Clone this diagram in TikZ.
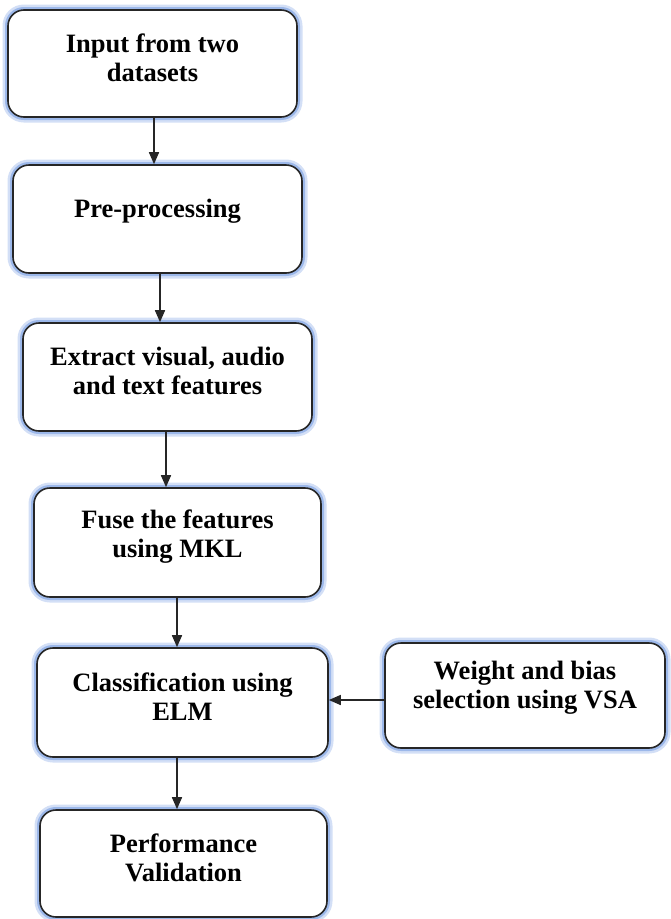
\documentclass[tikz,border=0pt]{standalone}
\usepackage{fontspec}
\setmainfont{Liberation Serif}
\usetikzlibrary{arrows.meta}
\definecolor{glowA}{HTML}{D3DFF6}
\definecolor{glowB}{HTML}{9CB8EA}
\tikzset{
  procbox/.style={draw=black!85, line width=1.6pt, rounded corners=16pt, fill=white,
    inner sep=0pt,
    preaction={draw=glowA, line width=11pt},
    preaction={draw=glowB, line width=6pt}},
  boxtext/.style={align=center, font=\fontsize{26.5}{29}\selectfont\bfseries, yshift=6pt},
  arr/.style={draw=black!85, line width=1.5pt, -{Triangle[length=12pt,width=10pt]}}
}
\begin{document}
\begin{tikzpicture}[x=1pt,y=1pt]
\useasboundingbox (0,0) rectangle (670,-919);
\node[procbox, minimum width=289pt, minimum height=107pt,
  label={[boxtext]center:Input from two\\datasets}] (b1) at (152.5,-63.5) {};
\node[procbox, minimum width=289pt, minimum height=108pt,
  label={[boxtext, yshift=2pt]center:Pre-processing}] (b2) at (157.5,-219) {};
\node[procbox, minimum width=289pt, minimum height=108pt,
  label={[boxtext]center:Extract visual, audio\\and text features}] (b3) at (167.5,-377) {};
\node[procbox, minimum width=287pt, minimum height=109pt,
  label={[boxtext]center:Fuse the features\\using MKL}] (b4) at (177.5,-542.5) {};
\node[procbox, minimum width=291pt, minimum height=109pt,
  label={[boxtext]center:Classification using\\ELM}] (b5) at (182.5,-702.5) {};
\node[procbox, minimum width=280pt, minimum height=105pt,
  label={[boxtext, yshift=2pt]center:Weight and bias\\selection using VSA}] (b6) at (525,-695.5) {};
\node[procbox, minimum width=287pt, minimum height=107pt,
  label={[boxtext]center:Performance\\Validation}] (b7) at (183.5,-863.5) {};
\draw[arr] ([xshift=1.5pt]b1.south) -- ([xshift=1.5pt]b1.south |- b2.north);
\draw[arr] ([xshift=2.5pt]b2.south) -- ([xshift=2.5pt]b2.south |- b3.north);
\draw[arr] ([xshift=-1.5pt]b3.south) -- ([xshift=-1.5pt]b3.south |- b4.north);
\draw[arr] ([xshift=-0.5pt]b4.south) -- ([xshift=-0.5pt]b4.south |- b5.north);
\draw[arr] ([xshift=-5.5pt]b5.south) -- ([xshift=-5.5pt]b5.south |- b7.north);
\draw[arr] ([yshift=-4.5pt]b6.west) -- ([yshift=-4.5pt]b6.west -| b5.east);
\end{tikzpicture}
\end{document}
